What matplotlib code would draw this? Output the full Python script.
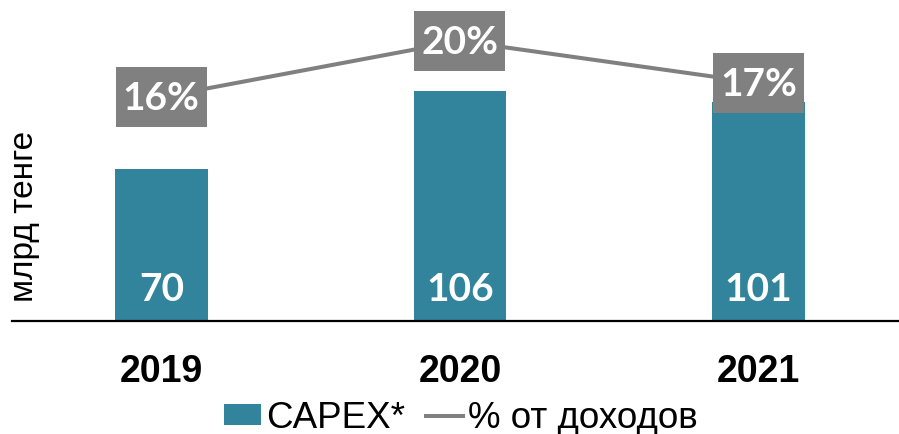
import matplotlib
matplotlib.use("Agg")
import matplotlib.pyplot as plt
import matplotlib.transforms as mtransforms
from matplotlib.patches import Rectangle
import numpy as np

years = ["2019", "2020", "2021"]
capex = [70, 106, 101]
share = [16, 20, 17]

C_BAR = "#31849B"
C_LINE = "#808080"

plt.rcParams["font.family"] = ["Liberation Sans", "DejaVu Sans"]

fig = plt.figure(figsize=(8.99, 4.35), dpi=100)
ax = fig.add_axes([12 / 899, 1 - 322 / 435, 887 / 899, 322 / 435])
x = np.arange(len(years))

bars = ax.bar(x, capex, width=0.31, color=C_BAR, zorder=2)
ax.set_xlim(-0.5, 2.47)
ax.set_ylim(0, 322 / 2.17)
for xi, v in zip(x, capex):
    ax.text(xi, 15, f"{v}", ha="center", va="center", color="white",
            fontsize=28, fontweight="bold", family="Lato", zorder=4)

for s in ("top", "right", "left"):
    ax.spines[s].set_visible(False)
ax.spines["bottom"].set_linewidth(1.6)
ax.set_yticks([])
ax.set_xticks(x)
ax.set_xticklabels(years, fontsize=27, fontweight="bold")
ax.tick_params(axis="x", length=0, pad=23)

fig.text(33 / 899, 1 - 216 / 435, "млрд тенге", rotation=90, fontsize=24,
         ha="center", va="baseline", rotation_mode="anchor")

# % line on its own scale
ax2 = ax.twinx()
ax2.set_ylim(0, 322 / 14)
ax2.axis("off")
line, = ax2.plot(x, share, color=C_LINE, lw=2.9, zorder=3)
for xi, v in zip(x, share):
    tr = fig.dpi_scale_trans + mtransforms.ScaledTranslation(xi, v, ax2.transData)
    ax2.add_patch(Rectangle((-0.455, -0.30), 0.91, 0.60, transform=tr,
                            fc=C_LINE, ec="none", zorder=4, clip_on=False))
    ax2.text(xi, v, f"{v}%", ha="center", va="center", color="white",
             fontsize=28, fontweight="bold", family="Lato", zorder=5)

fig.legend([bars, line], ["CAPEX*", "% от доходов"], loc="center",
           bbox_to_anchor=(461 / 899, 1 - 419 / 435), ncol=2, frameon=False,
           fontsize=26.5, borderpad=0, handlelength=1.0, handleheight=0.49,
           handletextpad=0.15, columnspacing=0.55)

fig.savefig("out.png", dpi=100)
